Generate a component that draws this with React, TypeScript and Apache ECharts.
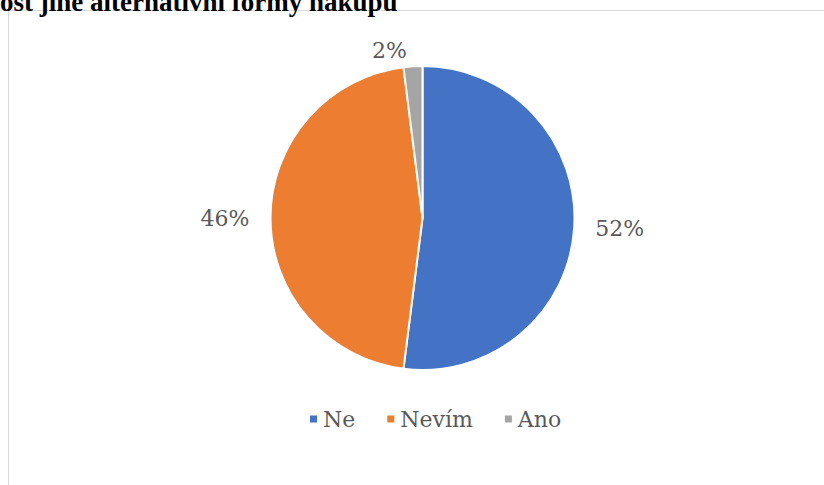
import React, { useEffect, useRef } from "react";
import * as echarts from "echarts";

const categories = ["Ne", "Nevím", "Ano"];
const values = [52, 46, 2];
const colors = ["#4472C4", "#ED7D31", "#A5A5A5"];
const titleText = "ost jiné alternativní formy nákupu";
const serif = "DejaVu Serif";

export default function App() {
  const ref = useRef<HTMLDivElement>(null);
  useEffect(() => {
    if (!ref.current) return;
    const chart = echarts.init(ref.current, null, { renderer: "svg" });
    chart.setOption({
      animation: false,
      backgroundColor: "#ffffff",
      graphic: [
        {
          type: "rect",
          shape: { x: 8.5, y: 10.5, width: 900, height: 600 },
          style: { fill: "none", stroke: "#d9d9d9", lineWidth: 1 },
          z: 0,
        },
        {
          type: "text",
          x: 0,
          y: 2,
          style: {
            text: titleText,
            font: "bold 27px Liberation Serif",
            fill: "#000000",
            verticalAlign: "middle",
            align: "left",
          },
          z: 10,
        },
      ],
      legend: {
        data: categories,
        left: 303,
        top: 403,
        icon: "rect",
        itemWidth: 9,
        itemHeight: 9,
        itemGap: 30,
        textStyle: {
          fontFamily: serif,
          fontSize: 22,
          color: "#595959",
        },
      },
      series: [
        {
          type: "pie",
          center: [422.5, 218],
          radius: 152,
          startAngle: 90,
          clockwise: true,
          data: categories.map((c, i) => ({
            name: c,
            value: values[i],
            itemStyle: { color: colors[i] },
          })),
          itemStyle: { borderColor: "#ffffff", borderWidth: 2 },
          label: {
            show: true,
            position: "outside",
            formatter: (p: any) => p.value + "%",
            fontFamily: serif,
            fontSize: 22,
            color: "#595959",
          },
          labelLine: { show: false, length: 16, length2: 0 },
          emphasis: { disabled: true },
        },
      ],
    });
    return () => chart.dispose();
  }, []);
  return (
    <div
      ref={ref}
      style={{ position: "fixed", left: 0, top: 0, width: 824, height: 485 }}
    />
  );
}
